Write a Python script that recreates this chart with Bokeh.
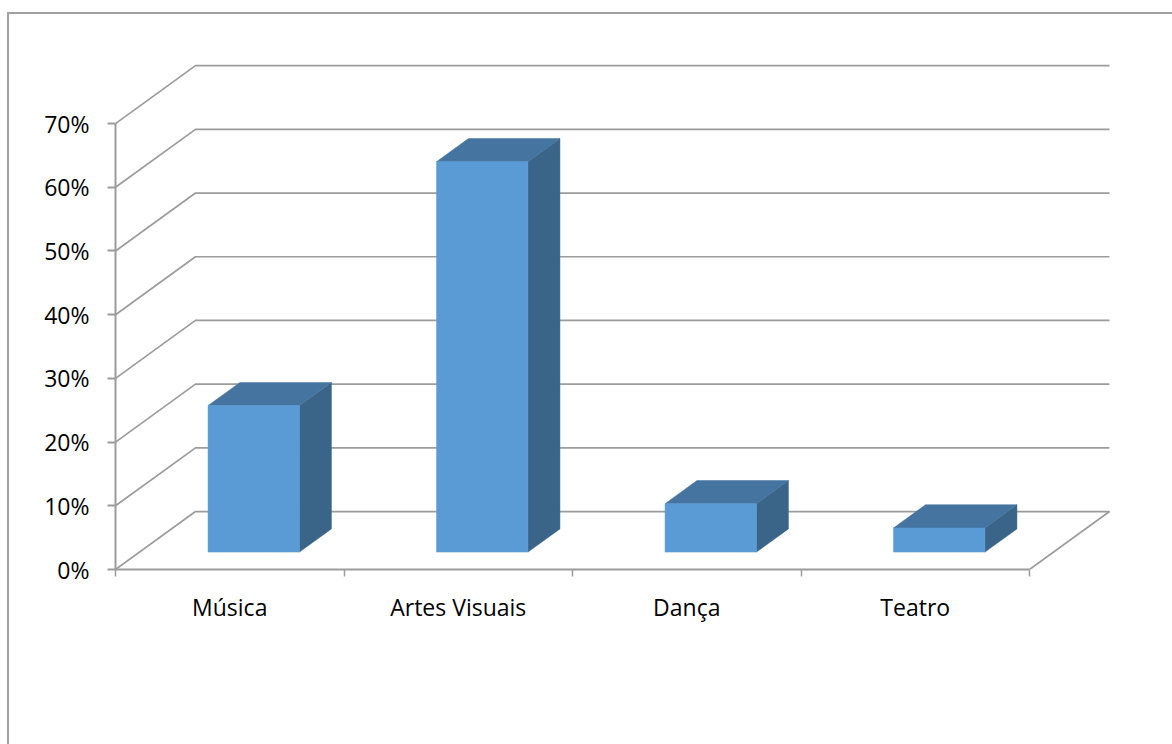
from bokeh.plotting import figure
from bokeh.models import Range1d, FixedTicker, LinearAxis, InlineStyleSheet
from bokeh.embed import file_html
from bokeh.resources import INLINE

# ---- data ----
categories = ["Música", "Artes Visuais", "Dança", "Teatro"]
values = [23.0, 61.3, 7.6, 3.8]          # percent
y_ticks = [0, 10, 20, 30, 40, 50, 60, 70]
y_tick_labels = ["0%", "10%", "20%", "30%", "40%", "50%", "60%", "70%"]

# ---- 3D look (style constants) ----
DX = 0.35      # depth offset in category units
DY = 9.1       # depth offset in percent units
BAR_W = 0.4
F0, F1 = 0.3, 0.7
FONT = "Open Sans"
GRID = "#9c9c9c"

n = len(categories)

p = figure(width=1172, height=744,
           x_range=Range1d(0, 4.442), y_range=Range1d(0, 82.26),
           output_backend="svg", toolbar_location=None,
           x_axis_location=None, y_axis_location=None,
           min_border_left=115, min_border_right=42,
           min_border_top=45, min_border_bottom=175)
p.outline_line_color = None
p.background_fill_color = "white"
p.border_fill_color = "white"
p.grid.visible = False

# outer chart-area border (left and top edges visible in the window)
p.stylesheets = [InlineStyleSheet(css=(
    ":host{position:relative;}"
    ":host::after{content:'';position:absolute;left:7px;top:12px;right:0;bottom:0;"
    "border-left:2px solid #a0a0a0;border-top:2px solid #a0a0a0;pointer-events:none;}"
))]

# gridlines: left wall diagonal + back wall horizontal
gx, gy = [], []
for t in y_ticks:
    gx.append([0, DX, n + DX])
    gy.append([t, t + DY, t + DY])
# right floor edge
gx.append([n, n + DX])
gy.append([0, DY])
p.multi_line(gx, gy, line_color=GRID, line_width=1.7)

# bars
fx, fy, tx, ty, rx, ry = [], [], [], [], [], []
ox0, oy0 = F0 * DX, F0 * DY
ox1, oy1 = F1 * DX, F1 * DY
for i, v in enumerate(values):
    c = i + 0.5
    xl, xr = c - BAR_W / 2, c + BAR_W / 2
    fx.append([xl + ox0, xr + ox0, xr + ox0, xl + ox0])
    fy.append([oy0, oy0, v + oy0, v + oy0])
    tx.append([xl + ox0, xr + ox0, xr + ox1, xl + ox1])
    ty.append([v + oy0, v + oy0, v + oy1, v + oy1])
    rx.append([xr + ox0, xr + ox1, xr + ox1, xr + ox0])
    ry.append([oy0, oy1, v + oy1, v + oy0])

p.patches(rx, ry, fill_color="#3a6488", line_color="#3a6488", line_width=0.5)
p.patches(tx, ty, fill_color="#44749f", line_color="#44749f", line_width=0.5)
p.patches(fx, fy, fill_color="#5b9bd5", line_color="#5b9bd5", line_width=0.5)

# y axis
yaxis = LinearAxis(ticker=FixedTicker(ticks=y_ticks),
                   major_label_overrides={t: l for t, l in zip(y_ticks, y_tick_labels)},
                   bounds=(0, 70))
yaxis.axis_line_color = GRID
yaxis.axis_line_width = 2
yaxis.major_tick_line_color = GRID
yaxis.major_tick_line_width = 2
yaxis.major_tick_out = 8
yaxis.major_tick_in = 0
yaxis.minor_tick_line_color = None
yaxis.major_label_standoff = 18
yaxis.major_label_text_font = FONT
yaxis.major_label_text_font_size = "23px"
yaxis.major_label_text_color = "black"
p.add_layout(yaxis, "left")

# x axis (labels at category centers, tick marks at boundaries)
centers = [i + 0.5 for i in range(n)]
xaxis = LinearAxis(ticker=FixedTicker(ticks=centers, minor_ticks=list(range(n + 1))),
                   major_label_overrides={c: l for c, l in zip(centers, categories)},
                   bounds=(0, n))
xaxis.axis_line_color = GRID
xaxis.axis_line_width = 2
xaxis.major_tick_line_color = None
xaxis.major_tick_out = 0
xaxis.major_tick_in = 0
xaxis.minor_tick_line_color = GRID
xaxis.minor_tick_line_width = 1.5
xaxis.minor_tick_out = 7
xaxis.minor_tick_in = 0
xaxis.major_label_standoff = 14
xaxis.major_label_text_font = FONT
xaxis.major_label_text_font_size = "23px"
xaxis.major_label_text_color = "black"
p.add_layout(xaxis, "below")

open("out.html", "w").write(file_html(p, INLINE))
